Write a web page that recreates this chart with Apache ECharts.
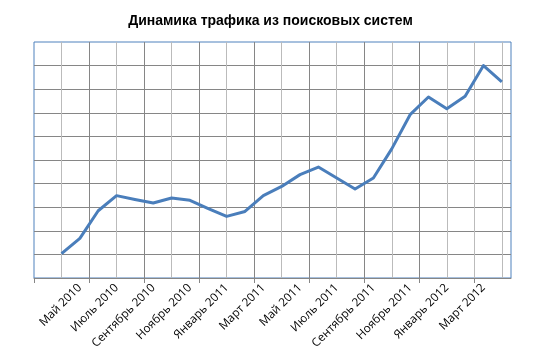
<!DOCTYPE html>
<html>
<head>
<meta charset="utf-8">
<script src="https://cdn.jsdelivr.net/npm/echarts@6/dist/echarts.min.js"></script>
<style>html,body{margin:0;padding:0;background:#fff}#c{width:541px;height:357px}</style>
</head>
<body>
<div id="c"></div>
<script>
const title = 'Динамика трафика из поисковых систем';
const categories = ['Март 2010','Апрель 2010','Май 2010','Июнь 2010','Июль 2010','Август 2010','Сентябрь 2010','Октябрь 2010','Ноябрь 2010','Декабрь 2010',
  'Январь 2011','Февраль 2011','Март 2011','Апрель 2011','Май 2011','Июнь 2011','Июль 2011','Август 2011','Сентябрь 2011','Октябрь 2011','Ноябрь 2011','Декабрь 2011',
  'Январь 2012','Февраль 2012','Март 2012','Апрель 2012'];
const traffic = [null, 10.3, 16.8, 28.5, 34.9, 33.3, 31.8, 33.9, 32.9, 29.4, 26.1, 28.2, 34.9, 38.8, 43.8, 47.0, 42.4, 37.7, 42.4, 54.7, 69.2, 76.7, 71.7, 77.0, 90.0, 83.1];

const n = categories.length;
const tickPositions = categories.map(function (_, i) { return i; }).filter(function (i) { return i % 3 === 0; });

const chart = echarts.init(document.getElementById('c'), null, {renderer: 'canvas'});
chart.setOption({
  animation: false,
  title: {
    text: title, left: 'center', top: 9,
    textStyle: {fontFamily: 'Liberation Sans', fontSize: 14, fontWeight: 'bold', color: '#000'}
  },
  grid: {left: 34, right: 30, top: 42, bottom: 79, show: true, borderColor: '#4F81BD', borderWidth: 1, containLabel: false},
  xAxis: [{
    type: 'category', data: categories, boundaryGap: true, z: 4, position: 'bottom',
    axisLine: {show: true, lineStyle: {color: '#868686', width: 1}},
    axisTick: {show: false},
    splitLine: {show: false},
    axisLabel: {rotate: 45, margin: 8, fontFamily: 'Open Sans', fontSize: 11.7, color: '#000',
      interval: function (i) { return i > 0 && i % 2 === 0; }}
  }, {
    type: 'value', min: 0, max: n, interval: 1.5, position: 'top', z: 1,
    axisLine: {show: false}, axisTick: {show: false}, axisLabel: {show: false},
    splitLine: {show: true, showMinLine: false, showMaxLine: false, lineStyle: {color: '#BBBBBB', width: 1}}
  }, {
    type: 'value', min: 0, max: n, interval: 3, position: 'bottom', z: 3,
    axisLine: {show: false}, axisLabel: {show: false},
    splitLine: {show: true, showMinLine: false, showMaxLine: false, lineStyle: {color: '#868686', width: 1}},
    axisTick: {show: true, length: 5, customValues: tickPositions, lineStyle: {color: '#868686'}}
  }],
  yAxis: {
    type: 'value', min: 0, max: 100, interval: 10,
    axisLine: {show: false}, axisTick: {show: false}, axisLabel: {show: false},
    splitLine: {show: true, showMaxLine: false, lineStyle: {color: '#868686', width: 1}}
  },
  series: [{
    type: 'line', xAxisIndex: 0, data: traffic, showSymbol: false, symbol: 'none', z: 5,
    lineStyle: {color: '#4A7EBB', width: 3, join: 'round'}
  }]
});
</script>
</body>
</html>
